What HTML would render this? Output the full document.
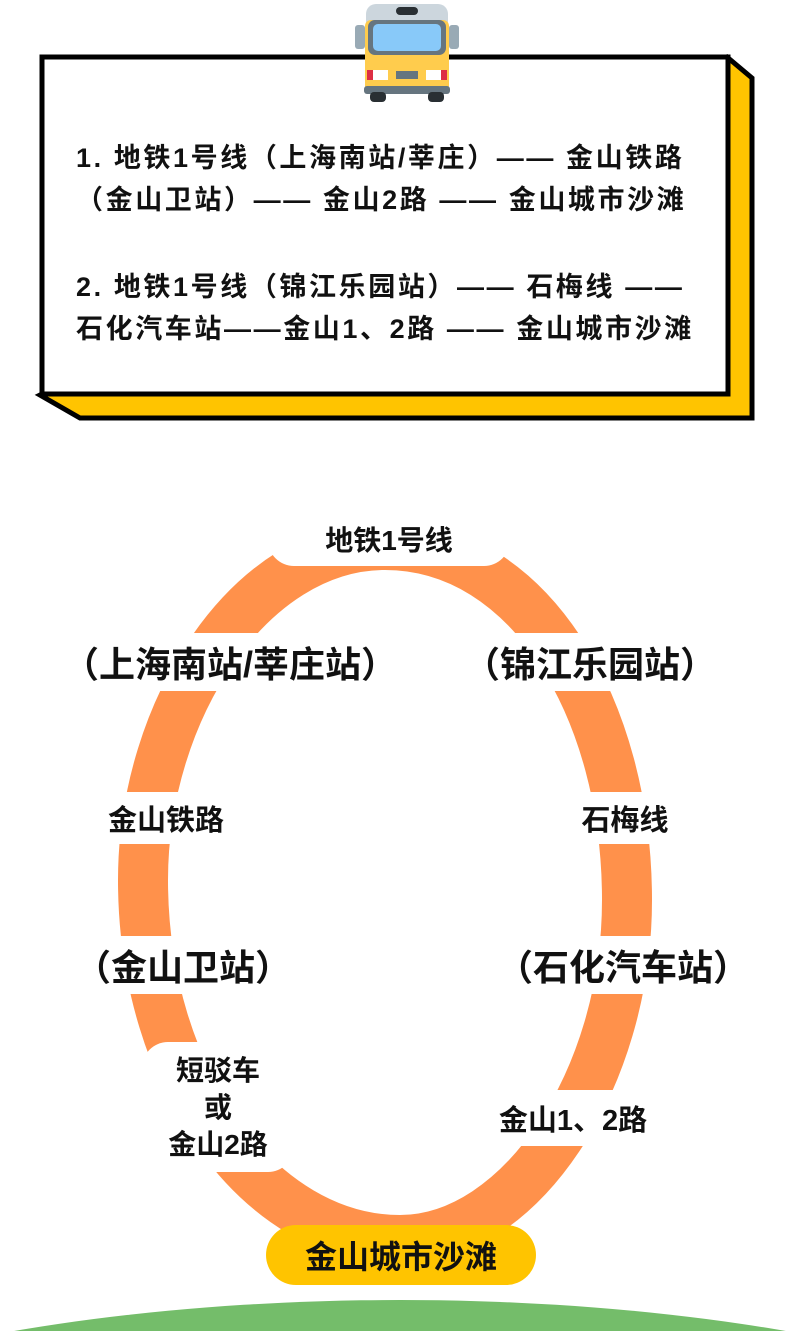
<!DOCTYPE html>
<html><head><meta charset="utf-8"><style>
html,body{margin:0;padding:0;background:#fff;width:800px;height:1331px;overflow:hidden;}
#c{position:relative;width:800px;height:1331px;overflow:hidden;font-family:"Liberation Sans","Noto Sans CJK SC",sans-serif;font-weight:bold;color:#111;}
.t{position:absolute;white-space:nowrap;font-size:27px;letter-spacing:2.6px;line-height:36px;}
.l{position:absolute;background:#fff;border-radius:26px;display:flex;align-items:center;justify-content:center;white-space:nowrap;text-align:center;}
</style></head><body><div id="c">
<svg width="800" height="1331" style="position:absolute;left:0;top:0;display:block">
<polygon points="727,57 752,78 752,418 80,418 40,395" fill="#ffc400" stroke="#000" stroke-width="5" stroke-linejoin="miter"/>
<rect x="42" y="57" width="686" height="337" fill="#fff" stroke="#000" stroke-width="5"/>
<rect x="366" y="4" width="82" height="30" rx="10" fill="#ccd6dd"/>
<rect x="396" y="7" width="22" height="8" rx="4" fill="#292f33"/>
<rect x="355" y="25" width="10" height="24" rx="3" fill="#99aab5"/>
<rect x="449" y="25" width="10" height="24" rx="3" fill="#99aab5"/>
<rect x="365" y="20" width="84" height="72" rx="6" fill="#ffcc4d"/>
<rect x="368" y="20" width="78" height="35" rx="7" fill="#66757f"/>
<rect x="373" y="24" width="68" height="27" rx="5" fill="#88c9f9"/>
<rect x="367" y="70" width="6" height="10" fill="#dd2e44"/>
<rect x="441" y="70" width="6" height="10" fill="#dd2e44"/>
<rect x="373" y="70" width="15" height="10" fill="#fff"/>
<rect x="426" y="70" width="15" height="10" fill="#fff"/>
<rect x="396" y="71" width="22" height="8" fill="#66757f"/>
<rect x="364" y="86" width="86" height="8" rx="3" fill="#66757f"/>
<rect x="370" y="92" width="16" height="10" rx="4" fill="#292f33"/>
<rect x="428" y="92" width="16" height="10" rx="4" fill="#292f33"/>
<path d="M385,545 C530,545 627,710 627,900 C627,1080 520,1240 400,1240 C260,1240 143,1080 143,880 C143,710 250,545 385,545 Z" fill="none" stroke="#ff914b" stroke-width="50"/>
<ellipse cx="400" cy="1550" rx="800" ry="250" fill="#74bd6a"/>
</svg>
<div class="t" style="left:76px;top:140px;">1. 地铁1号线（上海南站/莘庄）—— 金山铁路</div>
<div class="t" style="left:76px;top:182px;">（金山卫站）—— 金山2路 —— 金山城市沙滩</div>
<div class="t" style="left:76px;top:269px;">2. 地铁1号线（锦江乐园站）—— 石梅线 ——</div>
<div class="t" style="left:76px;top:311px;">石化汽车站——金山1、2路 —— 金山城市沙滩</div>

<div class="l" style="left:268px;top:512px;width:242px;height:54px;font-size:28px">地铁1号线</div>
<div class="l" style="left:60px;top:633px;width:340px;height:58px;font-size:36px">（上海南站/莘庄站）</div>
<div class="l" style="left:462px;top:633px;width:256px;height:58px;font-size:36px">（锦江乐园站）</div>
<div class="l" style="left:66px;top:792px;width:200px;height:52px;font-size:29px">金山铁路</div>
<div class="l" style="left:525px;top:792px;width:200px;height:52px;font-size:29px">石梅线</div>
<div class="l" style="left:66px;top:936px;width:234px;height:58px;font-size:36px">（金山卫站）</div>
<div class="l" style="left:492px;top:936px;width:262px;height:58px;font-size:36px">（石化汽车站）</div>
<div class="l" style="left:142px;top:1042px;width:152px;height:130px;font-size:28px;flex-direction:column;line-height:37px">短驳车<br>或<br>金山2路</div>
<div class="l" style="left:464px;top:1090px;width:218px;height:56px;font-size:29px">金山1、2路</div>
<div class="l" style="left:266px;top:1225px;width:270px;height:60px;border-radius:30px;background:#ffc400;font-size:32px">金山城市沙滩</div>
</div></body></html>
